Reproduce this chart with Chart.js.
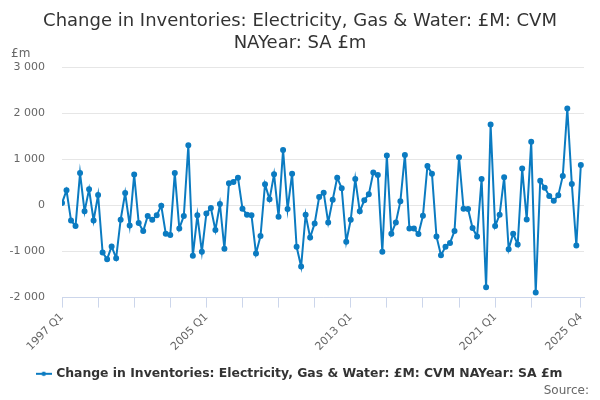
<!DOCTYPE html>
<html>
<head>
<meta charset="utf-8">
<script src="https://cdn.jsdelivr.net/npm/chart.js/dist/chart.umd.min.js"></script>
<style>
  html, body { margin: 0; padding: 0; background: #fff; }
  #wrap { width: 600px; height: 400px; position: relative; }
</style>
</head>
<body>
<div id="wrap"><canvas id="invChart"></canvas></div>
<script>
// Series data, quarterly from 1997 Q1 to 2025 Q4 (£m)
const firstYear = 1997;
const lastYear = 2025;
const seriesName = 'Change in Inventories: Electricity, Gas & Water: £M: CVM NAYear: SA £m';
const values = [
  50, 326, -326, -450, 700, -130, 348, -326, 225, -1022,
  -1167, -891, -1145, -312, 268, -435, 667, -384, -558, -232,
  -312, -217, -7, -616, -645, 703, -500, -232, 1304, -1094,
  -217, -1007, -174, -58, -536, 29, -942, 478, 507, 601,
  -72, -203, -217, -1043, -667, 457, 130, 674, -246, 1203,
  -80, 688, -899, -1326, -203, -696, -391, 181, 275, -370,
  123, 601, 370, -790, -312, 572, -130, 109, 239, 710,
  659, -1007, 1080, -616, -370, 87, 1094, -500, -500, -623,
  -225, 855, 688, -674, -1080, -900, -815, -558, 1043, -72,
  -80, -493, -674, 572, -1775, 1754, -449, -203, 609, -949,
  -616, -848, 797, -304, 1377, -1891, 536, 384, 203, 101,
  217, 638, 2101, 464, -870, 877
];
// x-axis: tick marks every 8 quarters, labels on a few of them
const tickIndexes = [0, 8, 16, 24, 32, 40, 48, 56, 64, 72, 80, 88, 96, 104, 115];
const labelledTicks = ['1997 Q1', '2005 Q1', '2013 Q1', '2021 Q1', '2025 Q4'];
const yTicks = [-2000, -1000, 0, 1000, 2000, 3000];

const quarters = [];
for (let y = firstYear; y <= lastYear; y++) {
  for (let q = 1; q <= 4; q++) quarters.push(y + ' Q' + q);
}

const lineColor = '#0b7bc1';
Chart.defaults.font.family = 'DejaVu Sans';

function fmt(v) {
  const s = Math.abs(v).toString().replace(/\B(?=(\d{3})+(?!\d))/g, ' ');
  return (v < 0 ? '-' : '') + s;
}

// legend symbol: short line with a dot in the middle
const legendSymbol = document.createElement('canvas');
legendSymbol.width = 16;
legendSymbol.height = 6;
(function () {
  const s = legendSymbol.getContext('2d');
  s.strokeStyle = lineColor;
  s.fillStyle = lineColor;
  s.lineWidth = 2;
  s.beginPath();
  s.moveTo(0, 3);
  s.lineTo(16, 3);
  s.stroke();
  s.beginPath();
  s.arc(8, 3, 2.2, 0, Math.PI * 2);
  s.fill();
})();

// extra texts: unit label above the y axis and source note
const extraText = {
  id: 'extraText',
  afterDraw(chart) {
    const c = chart.ctx;
    c.save();
    c.fillStyle = '#666666';
    c.font = '12px "DejaVu Sans"';
    c.textBaseline = 'middle';
    c.textAlign = 'left';
    c.fillText('£m', 11, 54);
    c.textAlign = 'right';
    c.fillText('Source:', 589, 391);
    c.restore();
  }
};

const chart = new Chart(document.getElementById('invChart'), {
  type: 'line',
  data: {
    datasets: [{
      label: seriesName,
      data: values.map((v, i) => ({ x: i, y: v })),
      borderColor: lineColor,
      backgroundColor: lineColor,
      borderWidth: 2,
      pointRadius: 2,
      pointHoverRadius: 4,
      tension: 0
    }]
  },
  plugins: [extraText],
  options: {
    responsive: true,
    maintainAspectRatio: false,
    animation: false,
    layout: { padding: { left: 0, right: 0, top: 0, bottom: 10 } },
    plugins: {
      title: {
        display: true,
        text: ['Change in Inventories: Electricity, Gas & Water: £M: CVM', 'NAYear: SA £m'],
        color: '#333333',
        font: { size: 18, weight: 'normal', lineHeight: 1.25 },
        padding: { top: 10, bottom: 12 }
      },
      legend: {
        position: 'bottom',
        labels: {
          color: '#333333',
          font: { size: 12.4, weight: 'bold' },
          usePointStyle: true,
          pointStyle: legendSymbol,
          padding: 8
        }
      },
      tooltip: {
        callbacks: {
          title: (items) => quarters[items[0].parsed.x],
          label: (item) => fmt(item.parsed.y)
        }
      }
    },
    scales: {
      x: {
        type: 'linear',
        min: 0,
        max: 115.7,
        afterBuildTicks: (scale) => {
          scale.ticks = tickIndexes.map(v => ({ value: v }));
        },
        afterFit: (scale) => { scale.height = 62; },
        ticks: {
          autoSkip: false,
          minRotation: 45,
          maxRotation: 45,
          padding: 3,
          color: '#666666',
          font: { size: 11 },
          callback: (v) => labelledTicks.includes(quarters[v]) ? quarters[v] : ''
        },
        grid: {
          drawOnChartArea: false,
          drawTicks: true,
          tickLength: 10,
          color: '#ccd6eb'
        },
        border: { display: true, color: '#ccd6eb', width: 1 }
      },
      y: {
        min: -2000,
        max: 3000,
        afterBuildTicks: (scale) => {
          scale.ticks = yTicks.map(v => ({ value: v }));
        },
        afterFit: (scale) => { scale.width = 62; },
        ticks: {
          padding: 17,
          color: '#666666',
          font: { size: 11 },
          callback: (v) => fmt(v)
        },
        grid: { color: '#e6e6e6', drawTicks: false },
        border: { display: false }
      },
      // empty right-hand axis, only to keep the plot's right margin
      yRight: {
        position: 'right',
        min: -2000,
        max: 3000,
        afterFit: (scale) => { scale.width = 16; },
        ticks: { display: false },
        grid: { display: false },
        border: { display: false }
      }
    }
  }
});
</script>
</body>
</html>
